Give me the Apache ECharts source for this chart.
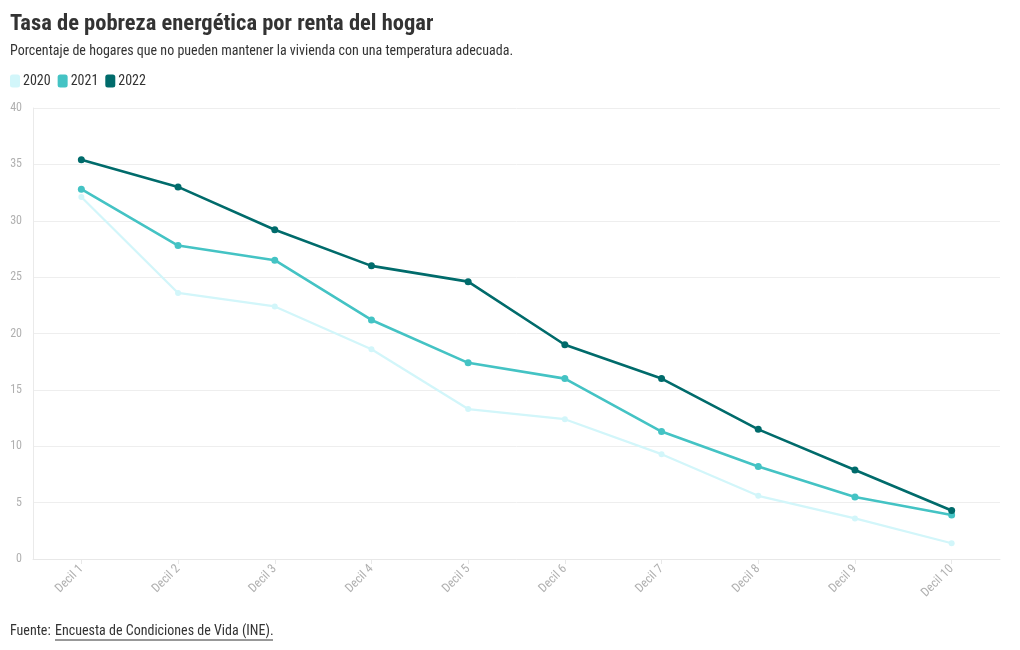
<!DOCTYPE html>
<html>
<head>
<meta charset="utf-8">
<script src="https://cdn.jsdelivr.net/npm/echarts@6/dist/echarts.min.js"></script>
<style>
html,body{margin:0;padding:0;background:#fff;}
#chart{width:1020px;height:650px;}
</style>
</head>
<body>
<div id="chart"></div>
<script>
const categories = ['Decil 1','Decil 2','Decil 3','Decil 4','Decil 5','Decil 6','Decil 7','Decil 8','Decil 9','Decil 10'];
const seriesNames = ['2020','2021','2022'];
const values2020 = [32.1, 23.6, 22.4, 18.6, 13.3, 12.4, 9.3, 5.6, 3.6, 1.4];
const values2021 = [32.8, 27.8, 26.5, 21.2, 17.4, 16.0, 11.3, 8.2, 5.5, 3.9];
const values2022 = [35.4, 33.0, 29.2, 26.0, 24.6, 19.0, 16.0, 11.5, 7.9, 4.3];
const yTicks = [0, 5, 10, 15, 20, 25, 30, 35, 40];

const FONT = '"Roboto Condensed", "Liberation Sans Narrow", Roboto, sans-serif';
const colors = ['#d2f6fa', '#44c3c4', '#006b6b'];
const dataSets = [values2020, values2021, values2022];

const chart = echarts.init(document.getElementById('chart'), null, {renderer: 'canvas'});
chart.setOption({
  backgroundColor: '#fff',
  animation: false,
  color: colors,
  textStyle: {fontFamily: FONT},
  title: {
    text: 'Tasa de pobreza energética por renta del hogar',
    subtext: 'Porcentaje de hogares que no pueden mantener la vivienda con una temperatura adecuada.',
    left: 5, top: 8,
    itemGap: 8,
    textStyle: {fontFamily: FONT, fontSize: 22.5, fontWeight: 'bold', color: '#333'},
    subtextStyle: {fontFamily: FONT, fontSize: 14, color: '#333'}
  },
  legend: {
    data: seriesNames,
    left: 5, top: 69,
    icon: 'roundRect',
    itemWidth: 10, itemHeight: 13,
    itemGap: 7,
    textStyle: {fontFamily: FONT, fontSize: 14, color: '#333', padding: [0,0,0,-2]}
  },
  grid: {left: 33, right: 20, top: 108, bottom: 91, containLabel: false},
  xAxis: {
    type: 'category',
    data: categories,
    boundaryGap: true,
    axisLine: {show: true, lineStyle: {color: '#e8e8e8'}},
    axisTick: {show: true, alignWithLabel: true, length: 5, lineStyle: {color: '#e8e8e8'}},
    axisLabel: {rotate: 45, color: '#b0b0b0', fontSize: 12.5, fontFamily: FONT, margin: 8}
  },
  yAxis: {
    type: 'value',
    min: 0, max: 40, interval: 5,
    axisLine: {show: true, lineStyle: {color: '#eaeaea'}},
    axisTick: {show: false},
    splitLine: {lineStyle: {color: '#eeeeee'}},
    axisLabel: {color: '#b0b0b0', fontSize: 12, fontFamily: FONT, margin: 11,
      formatter: v => yTicks.includes(v) ? String(v) : ''}
  },
  series: seriesNames.map((n, i) => ({
    name: n,
    type: 'line',
    data: dataSets[i],
    symbol: 'circle',
    symbolSize: i === 0 ? 6 : 7,
    lineStyle: {width: i === 0 ? 2.2 : 2.6, color: colors[i]},
    itemStyle: {color: colors[i]},
    z: 2 + i
  })),
  graphic: [{
    type: 'group', left: 10, top: 624,
    children: [
      {type: 'text', left: 0, top: 0, style: {text: 'Fuente: ', font: '14px ' + FONT, fill: '#333'}},
      {type: 'text', left: 45, top: 0, style: {text: 'Encuesta de Condiciones de Vida (INE).', font: '14px ' + FONT, fill: '#333'}},
      {type: 'line', shape: {x1: 45, y1: 16, x2: 263, y2: 16}, style: {stroke: '#333', lineWidth: 1}}
    ]
  }]
});
</script>
</body>
</html>
